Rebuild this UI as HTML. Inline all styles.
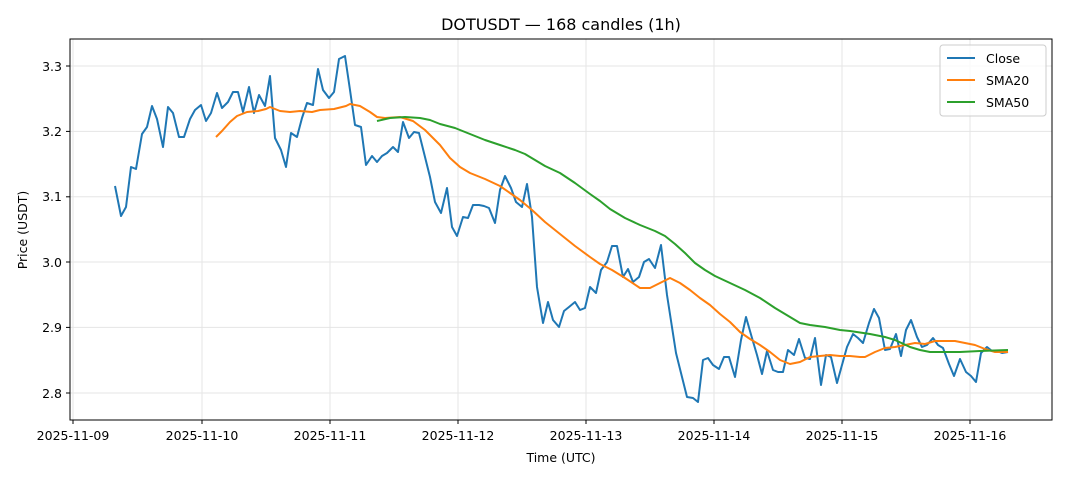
<!DOCTYPE html>
<html><head><meta charset="utf-8"><style>body{margin:0;background:#fff}svg{display:block;font-family:"DejaVu Sans","Liberation Sans",sans-serif}</style></head><body>
<svg width="1068" height="481" viewBox="0 0 1068 481" xmlns="http://www.w3.org/2000/svg">
<rect width="1068" height="481" fill="#fff"/>
<text x="561" y="30" font-size="16" text-anchor="middle" fill="#000">DOTUSDT — 168 candles (1h)</text>
<g stroke="#e5e5e5" stroke-width="1">
<line x1="73" y1="39" x2="73" y2="420"/><line x1="202" y1="39" x2="202" y2="420"/><line x1="330" y1="39" x2="330" y2="420"/><line x1="458" y1="39" x2="458" y2="420"/><line x1="586" y1="39" x2="586" y2="420"/><line x1="714" y1="39" x2="714" y2="420"/><line x1="842" y1="39" x2="842" y2="420"/><line x1="970" y1="39" x2="970" y2="420"/>
<line x1="70" y1="66" x2="1052" y2="66"/><line x1="70" y1="131.4" x2="1052" y2="131.4"/><line x1="70" y1="196.8" x2="1052" y2="196.8"/><line x1="70" y1="262" x2="1052" y2="262"/><line x1="70" y1="327.4" x2="1052" y2="327.4"/><line x1="70" y1="393" x2="1052" y2="393"/>
</g>
<g stroke="#000" stroke-width="1">
<line x1="73" y1="420" x2="73" y2="424"/><line x1="202" y1="420" x2="202" y2="424"/><line x1="330" y1="420" x2="330" y2="424"/><line x1="458" y1="420" x2="458" y2="424"/><line x1="586" y1="420" x2="586" y2="424"/><line x1="714" y1="420" x2="714" y2="424"/><line x1="842" y1="420" x2="842" y2="424"/><line x1="970" y1="420" x2="970" y2="424"/>
<line x1="66" y1="66" x2="70" y2="66"/><line x1="66" y1="131.4" x2="70" y2="131.4"/><line x1="66" y1="196.8" x2="70" y2="196.8"/><line x1="66" y1="262" x2="70" y2="262"/><line x1="66" y1="327.4" x2="70" y2="327.4"/><line x1="66" y1="393" x2="70" y2="393"/>
</g>
<g font-size="12.5" fill="#000" text-anchor="middle">
<text x="73" y="440">2025-11-09</text><text x="202" y="440">2025-11-10</text><text x="330" y="440">2025-11-11</text><text x="458" y="440">2025-11-12</text><text x="586" y="440">2025-11-13</text><text x="714" y="440">2025-11-14</text><text x="842" y="440">2025-11-15</text><text x="970" y="440">2025-11-16</text>
</g>
<g font-size="12.5" fill="#000" text-anchor="end">
<text x="62" y="71">3.3</text><text x="62" y="136">3.2</text><text x="62" y="201">3.1</text><text x="62" y="267">3.0</text><text x="62" y="332">2.9</text><text x="62" y="398">2.8</text>
</g>
<text x="561" y="462" font-size="12.5" text-anchor="middle">Time (UTC)</text>
<text transform="translate(27,230) rotate(-90)" font-size="12.5" text-anchor="middle">Price (USDT)</text>
<polyline fill="none" stroke="#1f77b4" stroke-width="2" stroke-linejoin="round" points="115,186 121,216 126,207 131,167 136,169 142,134 147,127 152,106 157,119 163,147 168,107 173,113 179,137 184,137 190,119 195,110 201,105 206,121 211,113 217,93 222,108 228,102 233,92 238,92 243,112 249,87 254,113 259,95 265,106 270,76 275,138 281,150 286,167 291,133 297,137 302,118 307,103 313,105 318,69 323,90 329,98 334,92 339,59 345,56 350,90 355,125 361,127 366,165 372,156 377,162 382,156 387,153 393,147 398,152 403,122 409,138 414,132 419,133 424,153 430,177 435,202 441,213 447,188 452,227 457,236 463,217 468,218 473,205 479,205 484,206 489,208 495,223 500,190 505,176 511,188 516,202 522,207 527,184 532,217 537,287 543,323 548,302 553,320 559,327 564,311 569,307 575,302 580,310 585,308 590,287 596,293 601,270 607,262 612,246 617,246 623,277 628,269 633,282 639,277 644,262 649,259 655,268 661,245 667,295 676,353 687,397 693,398 698,402 703,360 708,358 713,365 719,369 724,357 729,357 735,377 741,340 746,317 752,338 757,355 762,374 767,351 773,370 778,372 783,372 788,350 794,355 799,339 805,358 810,359 815,338 821,385 826,355 831,357 837,383 842,365 847,347 853,334 858,338 863,343 869,323 874,309 879,318 885,350 890,349 896,334 901,356 906,330 911,320 917,337 922,347 927,345 933,338 938,345 943,348 949,364 954,376 960,359 966,372 971,376 976,382 981,353 987,347 992,351 997,351 1002,353 1008,352"/>
<polyline fill="none" stroke="#ff7f0e" stroke-width="2" stroke-linejoin="round" points="216,137 222,131 230,122 237,116 247,112 258,111 266,109 270,107 280,111 290,112 300,111 312,112 320,110 334,109 346,106 350,104 360,106 370,112 377,117 385,118 400,117 413,121 425,130 440,145 450,158 460,167 470,173 485,179 500,186 510,193 520,200 532,210 545,222 560,234 575,246 590,257 600,264 612,270 625,278 640,288 650,288 660,283 670,278 680,283 690,290 700,298 710,305 720,314 730,322 740,332 750,339 760,345 770,352 780,360 790,364 800,362 810,357 820,356 830,355 840,356 850,356 860,357 865,357 875,352 885,348 895,347 905,345 915,343 925,344 935,341 945,341 955,341 965,343 975,345 985,349 995,352 1008,352"/>
<polyline fill="none" stroke="#2ca02c" stroke-width="2" stroke-linejoin="round" points="377,121 390,118 405,117 420,118 430,120 440,124 455,128 470,134 485,140 500,145 515,150 525,154 535,160 545,166 560,173 575,183 590,194 600,201 610,209 625,218 640,225 655,231 665,236 675,244 685,253 695,263 705,270 715,276 730,283 745,290 760,298 775,308 790,317 800,323 810,325 825,327 840,330 850,331 870,334 885,337 895,340 910,347 920,350 930,352 945,352 960,352 980,351 1008,350"/>
<rect x="70" y="39" width="982" height="381" fill="none" stroke="#000" stroke-width="1"/>
<rect x="940" y="45" width="106" height="71" rx="3" fill="#fff" fill-opacity="0.8" stroke="#ccc"/>
<line x1="947" y1="58" x2="975" y2="58" stroke="#1f77b4" stroke-width="2"/>
<line x1="947" y1="80" x2="975" y2="80" stroke="#ff7f0e" stroke-width="2"/>
<line x1="947" y1="102" x2="975" y2="102" stroke="#2ca02c" stroke-width="2"/>
<g font-size="12.5" fill="#000"><text x="986" y="63">Close</text><text x="986" y="85">SMA20</text><text x="986" y="107">SMA50</text></g>
</svg>
</body></html>
